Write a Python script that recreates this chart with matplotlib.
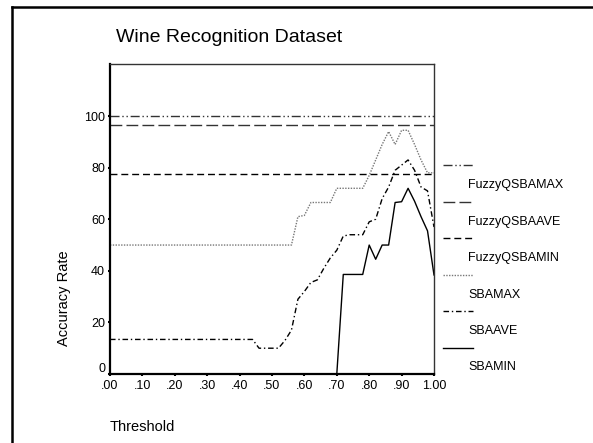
import numpy as np
import matplotlib
matplotlib.use('Agg')
import matplotlib.pyplot as plt
import matplotlib.transforms as mtransforms
from matplotlib.lines import Line2D

plt.rcParams['font.family'] = ['Liberation Sans', 'DejaVu Sans']

# thresholds 0.00 .. 1.00, step 0.02
threshold = np.round(np.arange(0, 1.0001, 0.02), 2)

fuzzy_max = [100.0] * len(threshold)
fuzzy_ave = [96.4] * len(threshold)
fuzzy_min = [77.5] * len(threshold)

sba_max = [50] * 29 + [61, 61.5, 66.5, 66.5, 66.5, 66.5, 72, 72, 72, 72, 72,
                       77, 83, 89, 94, 89, 94.5, 94.5, 89, 83, 78, 78]
sba_ave = [13.4] * 23 + [10, 10, 10, 10, 13, 17, 29, 32, 35.5, 36.5, 41, 45, 48,
                         53.5, 54, 54, 54, 59, 60, 68, 72.5, 79, 81, 83, 79,
                         72.5, 71, 57]
sba_min = [0] * 36 + [38.6, 38.6, 38.6, 38.6, 50, 44.5, 50, 50, 66.5, 66.8,
                      72, 67, 61, 55.5, 38.4]

series = ['FuzzyQSBAMAX', 'FuzzyQSBAAVE', 'FuzzyQSBAMIN', 'SBAMAX', 'SBAAVE', 'SBAMIN']
values = [fuzzy_max, fuzzy_ave, fuzzy_min, sba_max, sba_ave, sba_min]
styles = [
    dict(color='#333333', lw=1.0, ls=(0, (6.5, 2, 1, 2, 1, 2))),
    dict(color='#333333', lw=1.0, ls=(0, (8.5, 3))),
    dict(color='black', lw=1.0, ls=(0, (5, 2.8))),
    dict(color='#777777', lw=1.0, ls=(0, (1, 1))),
    dict(color='black', lw=1.0, ls=(0, (4, 2, 1, 2))),
    dict(color='black', lw=1.0, ls='-'),
]

xticks = [0, .1, .2, .3, .4, .5, .6, .7, .8, .9, 1.0]
xticklabels = ['.00', '.10', '.20', '.30', '.40', '.50', '.60', '.70', '.80', '.90', '1.00']
yticks = [0, 20, 40, 60, 80, 100]

W, H = 593, 443
fig = plt.figure(figsize=(W / 100, H / 100), dpi=100)
ax = fig.add_axes([110 / W, 1 - 374 / H, 324 / W, 310 / H])

for name, v, st in zip(series, values, styles):
    ax.plot(threshold, v, **st, label=name)

ax.set_xlim(0, 1)
ax.set_ylim(0, 120.2)
ax.set_xticks(xticks)
ax.set_xticklabels(xticklabels)
ax.set_yticks(yticks)
ax.tick_params(direction='out', length=1.5, width=1.5, pad=2, labelsize=9)
ax.tick_params(axis='x', pad=3)
for s in ['left', 'bottom']:
    ax.spines[s].set_linewidth(1.6)
for s in ['top', 'right']:
    ax.spines[s].set_linewidth(1.0)
    ax.spines[s].set_color('#333333')

# lift the "0" label a little so it clears ".00"
zero_lbl = ax.get_yticklabels()[0]
zero_lbl.set_transform(zero_lbl.get_transform() +
                       mtransforms.ScaledTranslation(0, 6 / 100, fig.dpi_scale_trans))

# legend drawn SPSS-style: line sample above each label
for i, (name, st) in enumerate(zip(series, styles)):
    y_line = 165 + i * 36.5
    fig.add_artist(Line2D([443 / W, 473 / W], [1 - y_line / H] * 2,
                          transform=fig.transFigure, **st))
    fig.text(468 / W, 1 - (y_line + 20) / H, name, fontsize=9,
             ha='left', va='center')

fig.text(116 / W, 1 - 37 / H, 'Wine Recognition Dataset', fontsize=14,
         ha='left', va='center')
fig.text(64 / W, 1 - 298 / H, 'Accuracy Rate', fontsize=10.5, rotation=90,
         ha='center', va='center')
fig.text(110 / W, 1 - 427 / H, 'Threshold', fontsize=10.5, ha='left', va='center')

# frame around the chart (top and left edges visible)
fig.add_artist(Line2D([12 / W, 1], [1 - 7 / H] * 2, color='black', lw=1.8,
                      transform=fig.transFigure))
fig.add_artist(Line2D([12 / W, 12 / W], [0, 1 - 7 / H], color='black', lw=1.8,
                      transform=fig.transFigure))

fig.savefig('out.png', dpi=100)
